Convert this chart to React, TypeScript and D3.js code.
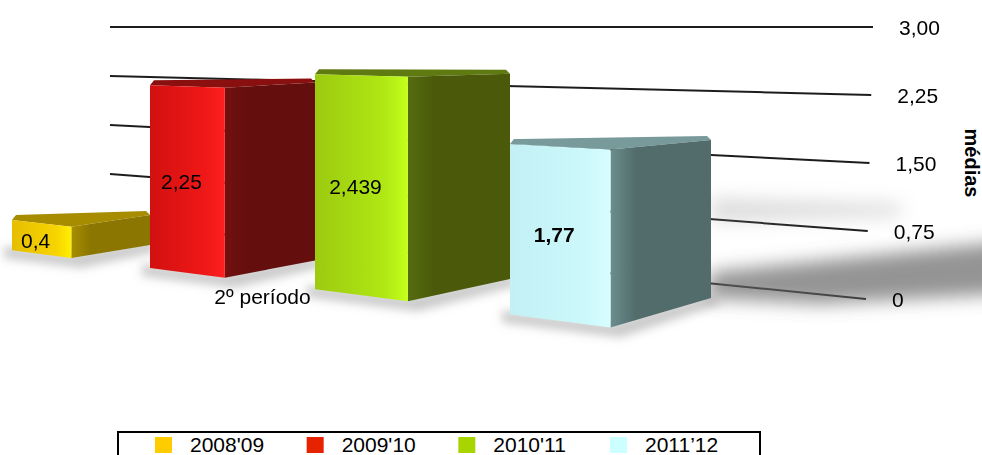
import React from "react";
import * as d3 from "d3";

// ---------- data ----------
const series = ["2008'09", "2009'10", "2010'11", "2011\u201912"];
const values = [0.4, 2.25, 2.439, 1.77];
const valueLabels = ["0,4", "2,25", "2,439", "1,77"];
const boldLabel = [false, false, false, true];
const category = "2º período";
const yTicks = [0, 0.75, 1.5, 2.25, 3];
const yTickLabels = ["0", "0,75", "1,50", "2,25", "3,00"];
const axisTitle = "médias";

// ---------- styles ----------
const legendColors = ["#ffcc00", "#e62200", "#a8d400", "#ccffff"];
const frontStops = [
  ["#e6be00", "#f7d400", "#fff000"],
  ["#d21010", "#f01818", "#ff2020"],
  ["#9cca10", "#b0e814", "#c4ff1c"],
  ["#c2f0f4", "#ccf8fb", "#d8fdff"],
];
const sideStops = [
  ["#a88e00", "#8a7600"],
  ["#741010", "#640e0e"],
  ["#566c10", "#4a5a0a"],
  ["#6c8e8e", "#526c6c"],
];
const topColors = ["#a88c00", "#8a1010", "#5e7a10", "#789a9a"];
const FONT = "'Liberation Sans', Arial, sans-serif";

const W = 982;
const H = 455;

// ---------- layout scales (perspective) ----------
const slot = d3.scaleLinear().domain([0, 1, 2, 3, 4]).range([12, 150, 315, 510, 711]);
const frontFrac = d3.scaleLinear().domain([0, 3]).range([0.43, 0.5]);
const floorY = d3.scaleLinear().domain([0, W]).range([248.7, 248.7 + 0.129 * W]);
const unitH = d3.scaleLinear().domain([0, W]).range([75, 75 + 0.0418 * W]);
const backFloorY = d3.scaleLinear().domain([0, W]).range([230.8, 230.8 + 0.0945 * W]);
const backUnitH = d3.scaleLinear().domain([0, W]).range([71.1, 71.1 + 0.0256 * W]);

const gridX0 = 110;
const gridRightX = d3.scaleLinear().domain([0, 3]).range([866, 873]);
const gridLeftY = d3.scaleLinear().domain([0, 3]).range([223, 27]);
const gridRightY = d3.scaleLinear().domain([0, 3]).range([299, 27]);

const legendX = d3.scaleLinear().domain([0, 3]).range([155, 610]);

const fy = (x: number, v: number) => floorY(x) - unitH(x) * v;
const by = (x: number, v: number) => backFloorY(x) - backUnitH(x) * v;

const line = d3.line();

export default function App() {
  const bars = values.map((v, i) => {
    const xL = slot(i);
    const xR = slot(i + 1);
    const xC = xL + frontFrac(i) * (xR - xL);
    const FTL: [number, number] = [xL, fy(xL, v)];
    const FBL: [number, number] = [xL, fy(xL, 0)];
    const FTC: [number, number] = [xC, fy(xC, v)];
    const FBC: [number, number] = [xC, fy(xC, 0)];
    const BTR: [number, number] = [xR, by(xR, v)];
    const BBR: [number, number] = [xR, by(xR, 0)];
    return { v, i, xL, xC, xR, FTL, FBL, FTC, FBC, BTR, BBR };
  });

  const closed = (pts: [number, number][]) => line(pts) + "Z";
  const last = bars[3];

  return (
    <div>
      <style>{`body{margin:0;overflow:hidden;background:#fff}`}</style>
      <svg width={W} height={H} style={{ display: "block", fontFamily: FONT }}>
        <defs>
          <filter id="blur10" x="-50%" y="-50%" width="200%" height="200%">
            <feGaussianBlur stdDeviation="9" />
          </filter>
          <filter id="blur5" x="-50%" y="-50%" width="200%" height="200%">
            <feGaussianBlur stdDeviation="5" />
          </filter>
          <filter id="blur06">
            <feGaussianBlur stdDeviation="0.6" />
          </filter>
          {bars.map((b) => (
            <React.Fragment key={"g" + b.i}>
              <linearGradient id={"front" + b.i} x1="0" x2="1" y1="0" y2="0">
                <stop offset="0" stopColor={frontStops[b.i][0]} />
                <stop offset="0.75" stopColor={frontStops[b.i][1]} />
                <stop offset="1" stopColor={frontStops[b.i][2]} />
              </linearGradient>
              <linearGradient id={"side" + b.i} x1="0" x2="1" y1="0" y2="0">
                <stop offset="0" stopColor={sideStops[b.i][0]} />
                <stop offset="0.25" stopColor={sideStops[b.i][1]} />
                <stop offset="1" stopColor={sideStops[b.i][1]} />
              </linearGradient>
            </React.Fragment>
          ))}
        </defs>

        {/* grid lines */}
        <g filter="url(#blur06)">
          {yTicks.map((t) => (
            <line
              key={"gl" + t}
              x1={gridX0}
              x2={gridRightX(t)}
              y1={gridLeftY(t)}
              y2={gridRightY(t)}
              stroke="#1e1e1e"
              strokeWidth={2}
            />
          ))}
        </g>

        {/* cast shadows */}
        <g filter="url(#blur10)">
          <path
            d={closed([
              [last.xR - 5, last.BBR[1]],
              [last.xR, last.BBR[1] - 26],
              [W + 20, last.BBR[1] - 56],
              [W + 20, last.BBR[1] - 4],
              [last.xR + 110, last.BBR[1] + 6],
            ])}
            fill="#666"
            opacity={0.7}
          />
          <path
            d={closed([
              [last.xR, last.BTR[1] + 58],
              [last.xR + 190, last.BTR[1] + 64],
              [last.xR + 190, last.BTR[1] + 76],
              [last.xR, last.BTR[1] + 82],
            ])}
            fill="#9a9a9a"
            opacity={0.35}
          />
        </g>
        <g filter="url(#blur5)">
          {bars.map((b) => (
            <path
              key={"sh" + b.i}
              d={closed([
                [b.xL - 8, b.FBL[1] - 4],
                [b.xC, b.FBC[1] - 4],
                [b.xR, b.BBR[1] - 4],
                [b.xR + 10, b.BBR[1] + 6],
                [b.xC + 10, b.FBC[1] + 10],
                [b.xL - 8, b.FBL[1] + 8],
              ])}
              fill="#8a8a8a"
              opacity={0.45}
            />
          ))}
        </g>

        {/* bars */}
        {bars.map((b) => (
          <g key={"bar" + b.i}>
            <path
              d={closed([
                b.FTL,
                [b.xL + 4, b.FTL[1] - 5],
                [b.xR - 4, b.BTR[1] - 4],
                b.BTR,
                b.FTC,
              ])}
              fill={topColors[b.i]}
            />
            <path d={closed([b.FTC, b.BTR, b.BBR, b.FBC])} fill={`url(#side${b.i})`} />
            <path d={closed([b.FTL, b.FTC, b.FBC, b.FBL])} fill={`url(#front${b.i})`} />
          </g>
        ))}

        {/* value labels */}
        {bars.map((b) => {
          const mid = (fy(b.xL, b.v) + fy(b.xL, 0)) / 2;
          return (
            <text
              key={"vl" + b.i}
              x={(b.xL + b.xC) / 2 - 6}
              y={mid + 12.5}
              textAnchor="middle"
              fontSize={21}
              fontWeight={boldLabel[b.i] ? "bold" : "normal"}
              fill="#000"
            >
              {valueLabels[b.i]}
            </text>
          );
        })}

        {/* category label */}
        <text
          x={(slot(1) + slot(2)) / 2 + 30}
          y={floorY((slot(1) + slot(2)) / 2 + 30) + 21.5}
          textAnchor="middle"
          fontSize={21}
          fill="#000"
        >
          {category}
        </text>

        {/* y tick labels */}
        {yTicks.map((t, k) => (
          <text
            key={"yt" + t}
            x={gridRightX(t) + 26}
            y={gridRightY(t) + 7.5}
            fontSize={21}
            fill="#000"
          >
            {yTickLabels[k]}
          </text>
        ))}

        {/* axis title */}
        <text
          transform={`translate(965, ${(gridRightY(3) + gridRightY(0)) / 2}) rotate(90)`}
          textAnchor="middle"
          fontSize={20}
          fontWeight="bold"
          fill="#000"
        >
          {axisTitle}
        </text>

        {/* legend */}
        <rect x={118} y={432} width={642} height={40} fill="#fff" stroke="#000" strokeWidth={2} />
        {series.map((s, i) => (
          <g key={"lg" + i}>
            <rect x={legendX(i)} y={437} width={17} height={16} fill={legendColors[i]} />
            <text x={legendX(i) + 35} y={452} fontSize={21} fill="#000">
              {s}
            </text>
          </g>
        ))}
      </svg>
    </div>
  );
}
